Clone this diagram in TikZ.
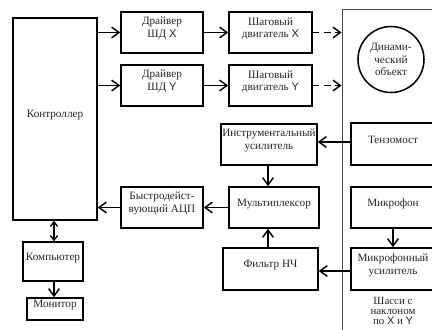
\documentclass[tikz,border=0pt]{standalone}
\usepackage{fontspec}
\setmainfont{Liberation Serif}
\newfontfamily\lsans{Liberation Sans}
\usetikzlibrary{arrows.meta,fit}
\newcommand{\axX}{{\lsans X}}
\newcommand{\axY}{{\lsans Y}}
\begin{document}
\begin{tikzpicture}[x=0.75pt,y=-0.75pt,
  every node/.style={font=\rmfamily\fontsize{8.4}{9.6}\selectfont, text=black!85},
  blk/.style={draw, line width=1.15pt, inner sep=0pt, align=center},
  chassisbox/.style={draw=black!70, line width=0.7pt, inner sep=0pt},
  objcircle/.style={draw, circle, line width=1.15pt, inner sep=0pt, minimum size=49.5pt, align=center},
  arr/.style={line width=1.1pt, -{Straight Barb[length=5.5pt,width=8pt,line width=1.1pt]}},
  darr/.style={line width=1.1pt, {Straight Barb[length=3.5pt,width=5.5pt,line width=1pt]}-{Straight Barb[length=3.5pt,width=5.5pt,line width=1pt]}},
  dasharr/.style={line width=1.2pt, dash pattern=on 5pt off 3.5pt, -{Straight Barb[length=5.5pt,width=8pt,line width=1.1pt]}}]
\useasboundingbox (0,0) rectangle (432,329);
\clip (0,0) rectangle (432,329);

% control side
\node[blk, fit={(13,18)(97,220)}] (ctrl) {Контроллер};
\node[blk, fit={(121,12)(203,53)}] (drvX) {Драйвер\\ШД \axX};
\node[blk, fit={(121,65)(203,106)}] (drvY) {Драйвер\\ШД \axY};
\node[blk, fit={(229,12)(312,53)}] (motX) {Шаговый\\двигатель \axX};
\node[blk, fit={(229,65)(312,106)}] (motY) {Шаговый\\двигатель \axY};
\node[blk, fit={(121,187)(203,228)}] (adc) {Быстродейст-\\вующий АЦП};
\node[blk, fit={(23,242)(83,281)}] (comp) {Компьютер};
\node[blk, fit={(27,298)(83,320)}] (mon) {Монитор};

% signal chain
\node[blk, fit={(221,124)(317,165)}] (instr) {Инструментальный\\усилитель};
\node[blk, fit={(229,187)(319,228)}] (mux) {Мультиплексор};
\node[blk, fit={(223,248)(318,290)}] (filt) {Фильтр НЧ};

% chassis with its sensors
\node[chassisbox, fit={(342,9)(450,345)}] (chassis) {};
\node[objcircle] (obj) at (391,59.5) {Динами-\\ческий\\объект};
\node[blk, fit={(351,123)(435,165)}] (tenz) {Тензомост};
\node[blk, fit={(351,187)(435,228)}] (mic) {Микрофон};
\node[blk, fit={(351,248)(435,290)}] (micamp) {Микрофонный\\усилитель};
\node[align=center, font=\rmfamily\fontsize{8.2}{7.5}\selectfont] (chlabel) at (393,311) {Шасси с\\наклоном\\по \axX{} и \axY};

% connectors
\draw[arr] (ctrl.east |- drvX) -- (drvX);
\draw[arr] (ctrl.east |- drvY) -- (drvY);
\draw[arr] (drvX) -- (motX);
\draw[arr] (drvY) -- (motY);
\draw[dasharr] (motX.east) -- (motX.east -| chassis.west);
\draw[dasharr] (motY.east) -- (motY.east -| chassis.west);
\draw[arr] (tenz.west |- 0,142) -- (instr.east |- 0,142);
\draw[arr] (instr.south -| 268,0) -- (mux.north -| 268,0);
\draw[arr] (filt.north -| 268,0) -- (mux.south -| 268,0);
\draw[arr] (mux) -- (adc);
\draw[arr] (adc) -- (ctrl.east |- adc);
\draw[arr] (mic.south -| 393,0) -- (micamp.north -| 393,0);
\draw[arr] (micamp.west |- 0,271) -- (filt.east |- 0,271);
\draw[darr] (ctrl.south -| 54,0) -- (comp.north -| 54,0);
\draw[arr] (comp.south -| 54,0) -- (mon.north -| 54,0);
\end{tikzpicture}
\end{document}
